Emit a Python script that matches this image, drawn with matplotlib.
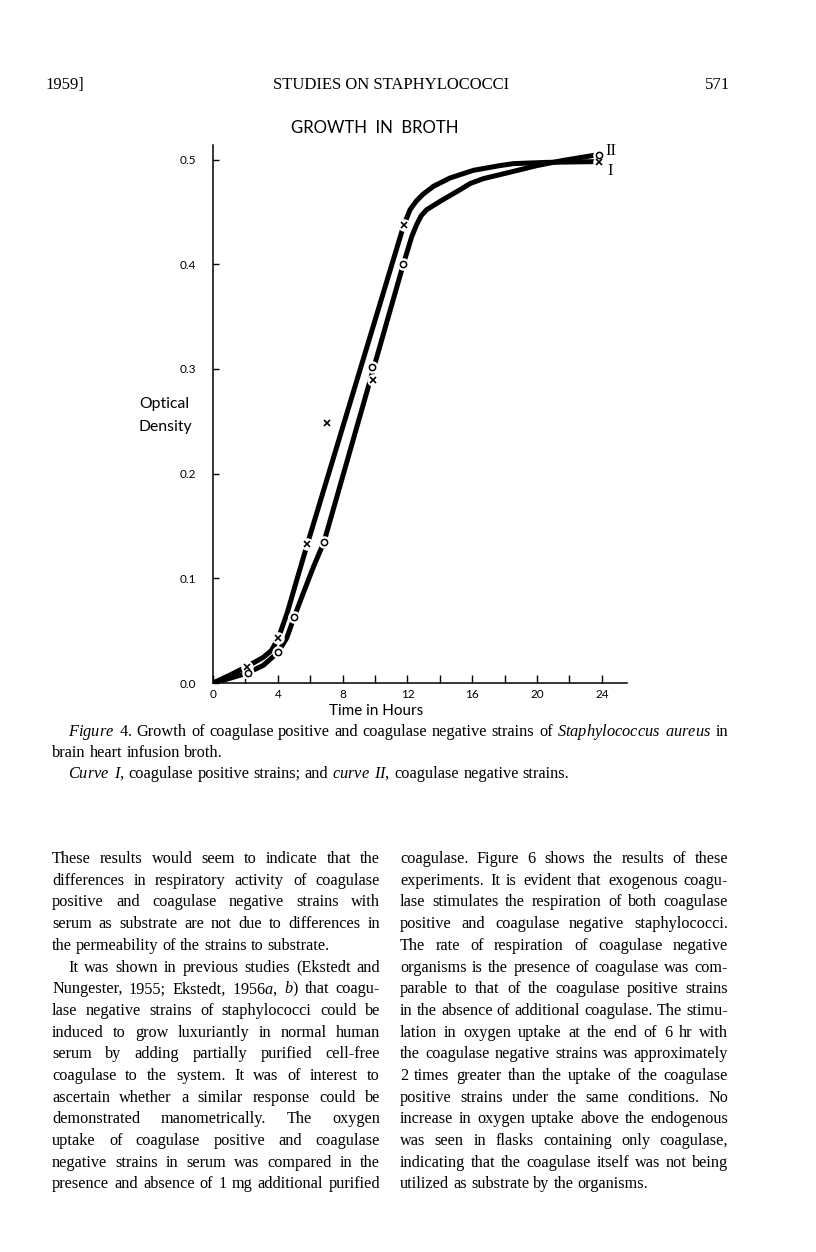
import matplotlib
matplotlib.use('Agg')
import matplotlib.pyplot as plt
from matplotlib.ticker import MultipleLocator

# traced path of curve I (the crosses) and curve II (the circles)
curve1_hours = [0, 1.05, 2.08, 3.10, 3.6, 4.03, 4.6, 5.2, 5.78, 11.75, 12.16, 12.55, 12.95,
                13.6, 14.63, 16.07, 17.7, 18.54, 20.6, 23.48]
curve1_od = [0, 0.0076, 0.0156, 0.0245, 0.031, 0.0427, 0.068, 0.100, 0.1305, 0.4362,
             0.4522, 0.4605, 0.4668, 0.4745, 0.4825, 0.4898, 0.4943, 0.4962, 0.4974, 0.4981]
curve2_hours = [0, 1.05, 2.08, 3.10, 4.03, 4.55, 5.02, 5.6, 6.2, 6.85, 11.75, 12.27,
                12.57, 12.85, 13.19, 14.01, 15.25, 15.86, 16.67, 18.54, 19.98, 21.62, 23.78]
curve2_od = [0, 0.0045, 0.0093, 0.0168, 0.0296, 0.043, 0.0634, 0.087, 0.111, 0.1348,
             0.4003, 0.4267, 0.4380, 0.4465, 0.4522, 0.4601, 0.4713, 0.4771, 0.4818,
             0.4888, 0.4943, 0.4993, 0.5048]

cross_hours = [2.08, 4.03, 5.78, 7.02, 9.9, 11.79, 23.83]
cross_od = [0.0156, 0.0427, 0.1329, 0.2483, 0.2897, 0.4379, 0.4978]
circle_hours = [2.14, 4.03, 5.02, 6.85, 9.8, 11.75, 23.85]
circle_od = [0.0093, 0.0296, 0.0634, 0.1348, 0.3018, 0.4003, 0.5048]

xticks = [0, 4, 8, 12, 16, 20, 24]
yticks = [0.0, 0.1, 0.2, 0.3, 0.4, 0.5]
ytick_labels = ['0.0', '0.1', '0.2', '0.3', '0.4', '0.5']

header = ['1959]', 'STUDIES ON STAPHYLOCOCCI', '571']
caption = [
    r'$\mathit{Figure}$ $\mathit{4.}$ Growth of coagulase positive and coagulase negative strains of '
    r'$\mathit{Staphylococcus}$ $\mathit{aureus}$ in',
    'brain heart infusion broth.',
    r'$\mathit{Curve}$ $\mathit{I}$, coagulase positive strains; and $\mathit{curve}$ $\mathit{II}$, '
    'coagulase negative strains.',
]
left_col = [
    'These results would seem to indicate that the',
    'differences in respiratory activity of coagulase',
    'positive and coagulase negative strains with',
    'serum as substrate are not due to differences in',
    'the permeability of the strains to substrate.',
    'It was shown in previous studies (Ekstedt and',
    r'Nungester, 1955; Ekstedt, 1956$\mathit{a}$, $\mathit{b}$) that coagu-',
    'lase negative strains of staphylococci could be',
    'induced to grow luxuriantly in normal human',
    'serum by adding partially purified cell-free',
    'coagulase to the system. It was of interest to',
    'ascertain whether a similar response could be',
    'demonstrated manometrically. The oxygen',
    'uptake of coagulase positive and coagulase',
    'negative strains in serum was compared in the',
    'presence and absence of 1 mg additional purified',
]
right_col = [
    'coagulase. Figure 6 shows the results of these',
    'experiments. It is evident that exogenous coagu-',
    'lase stimulates the respiration of both coagulase',
    'positive and coagulase negative staphylococci.',
    'The rate of respiration of coagulase negative',
    'organisms is the presence of coagulase was com-',
    'parable to that of the coagulase positive strains',
    'in the absence of additional coagulase. The stimu-',
    'lation in oxygen uptake at the end of 6 hr with',
    'the coagulase negative strains was approximately',
    '2 times greater than the uptake of the coagulase',
    'positive strains under the same conditions. No',
    'increase in oxygen uptake above the endogenous',
    'was seen in flasks containing only coagulase,',
    'indicating that the coagulase itself was not being',
    'utilized as substrate by the organisms.',
]

SERIF = 'Liberation Serif'
SANS = 'Lato'
plt.rcParams['mathtext.fontset'] = 'custom'
plt.rcParams['mathtext.rm'] = 'Liberation Serif'
plt.rcParams['mathtext.it'] = 'Liberation Serif:italic'

fig = plt.figure(figsize=(8.16, 12.52), dpi=100)
page = fig.add_axes([0, 0, 1, 1])
page.set_xlim(0, 816)
page.set_ylim(1252, 0)
page.axis('off')
renderer = fig.canvas.get_renderer()


def width_of(s, size, family):
    t = page.text(0, 0, s, fontsize=size, family=family)
    w = t.get_window_extent(renderer).width
    t.remove()
    return w


def fit_size(s, target, family):
    return 10 * target / width_of(s, 10, family)


def put_line(s, x0, x1, y, size, justify=True, indent=0):
    words = s.split(' ')
    texts = [page.text(0, y, w, fontsize=size, family=SERIF, va='baseline') for w in words]
    widths = [t.get_window_extent(renderer).width for t in texts]
    x0 = x0 + indent
    if justify and len(words) > 1:
        gap = (x1 - x0 - sum(widths)) / (len(words) - 1)
    else:
        gap = 0.25 * size * 100 / 72
    x = x0
    for t, w in zip(texts, widths):
        t.set_x(x)
        x += w + gap


# page header
hsize = fit_size(header[1], 238, SERIF)
page.text(45, 89, header[0], fontsize=hsize, family=SERIF, va='baseline')
page.text(391, 89, header[1], fontsize=hsize, family=SERIF, va='baseline', ha='center')
page.text(730, 89, header[2], fontsize=hsize, family=SERIF, va='baseline', ha='right')

# body and caption text: size chosen so the longest justified line just fits
justified = [l for i, l in enumerate(left_col) if i != 4] + right_col[:-1]
body_size = min(fit_size(l, 326, SERIF) for l in justified)
cap_size = fit_size(caption[0], 654, SERIF)
put_line(caption[0], 52, 728, 736, cap_size, True, indent=16)
put_line(caption[1], 52, 728, 757, cap_size, False)
put_line(caption[2], 52, 728, 778, cap_size, False, indent=16)

for i, line in enumerate(left_col):
    put_line(line, 52, 380, 863 + i * 21.7, body_size, i != 4,
             indent=16 if i == 5 else 0)
for i, line in enumerate(right_col):
    put_line(line, 400, 728, 863 + i * 21.7, body_size, i != 15)

# the chart
ax = fig.add_axes([213 / 816, 1 - 683 / 1252, 414 / 816, 538 / 1252])
ax.patch.set_alpha(0)
ax.plot(curve1_hours, curve1_od, color='black', lw=3.6, solid_capstyle='round',
        solid_joinstyle='round', zorder=2)
ax.plot(curve2_hours, curve2_od, color='black', lw=3.6, solid_capstyle='round',
        solid_joinstyle='round', zorder=2)
ax.plot(cross_hours, cross_od, ls='none', marker='o', ms=9, mfc='white', mec='none', zorder=3)
ax.plot(circle_hours, circle_od, ls='none', marker='o', ms=9, mfc='white', mec='none', zorder=3)
ax.plot(cross_hours, cross_od, ls='none', marker='x', ms=4.5, mew=1.2, color='black', zorder=4)
ax.plot(circle_hours, circle_od, ls='none', marker='o', ms=4.5, mew=1.1, mfc='white',
        mec='black', zorder=4)

ax.set_xlim(0, 25.55)
ax.set_ylim(0, 0.514)
for side in ['top', 'right']:
    ax.spines[side].set_visible(False)
for side in ['left', 'bottom']:
    ax.spines[side].set_linewidth(1.1)
ax.set_xticks(xticks)
ax.xaxis.set_minor_locator(MultipleLocator(2))
ax.set_yticks(yticks)
ax.set_yticklabels(ytick_labels)
tsize = 8.5
ax.tick_params(axis='x', which='both', direction='in', length=6, width=1.0, pad=4,
               labelsize=tsize, labelfontfamily=SANS)
ax.tick_params(axis='y', which='both', direction='in', length=4, width=1.0, pad=12,
               labelsize=tsize, labelfontfamily=SANS)

page.text(375, 128, 'GROWTH  IN  BROTH', fontsize=fit_size('GROWTH  IN  BROTH', 167, SANS),
          family=SANS, ha='center', va='center')
lsize = fit_size('Optical', 50, SANS)
page.text(139, 404, 'Optical', fontsize=lsize, family=SANS, va='center')
page.text(138, 427, 'Density', fontsize=lsize, family=SANS, va='center')
page.text(376, 711, 'Time in Hours', fontsize=fit_size('Time in Hours', 94, SANS),
          family=SANS, ha='center', va='center')

# curve labels
page.text(605, 151, 'II', fontsize=12, family=SERIF, va='center')
page.text(607, 171, 'I', fontsize=12, family=SERIF, va='center')

fig.savefig('out.png', dpi=100)
